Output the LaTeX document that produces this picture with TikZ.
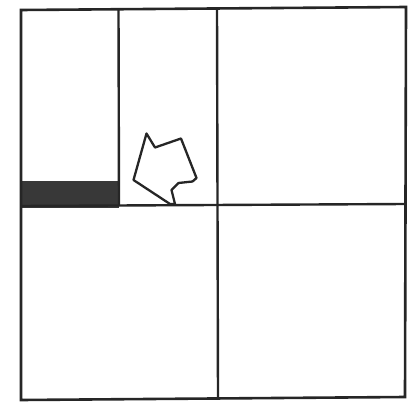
\documentclass[tikz,border=0pt]{standalone}
\begin{document}
\begin{tikzpicture}[x=1pt,y=-1pt,
  frame/.style={draw=black!85,line width=2.6pt,line join=miter},
  part/.style={draw=black!85,line width=2.4pt},
  blob/.style={draw=black!85,line width=2.3pt,line join=round,fill=white}]
\useasboundingbox (0,0) rectangle (408,412);
% dark band
\fill[black!78] (21,181) rectangle (119,208);
% inner lines
\draw[part] (118.5,9) -- (119,206);
\draw[part] (217,8) -- (218,398);
\draw[part] (21,206) -- (405,204);
% outer frame
\draw[frame] (21,10) -- (406,7) -- (405,397) -- (21,400) -- cycle;
% irregular shape
\draw[blob] (146.5,133.5) -- (155,147.5) -- (181,138.5) -- (196.5,178) -- (192.5,181.5)
  -- (178.5,183) -- (171.5,190) -- (175,204) -- (170,204) -- (133.5,180) -- cycle;
\end{tikzpicture}
\end{document}
